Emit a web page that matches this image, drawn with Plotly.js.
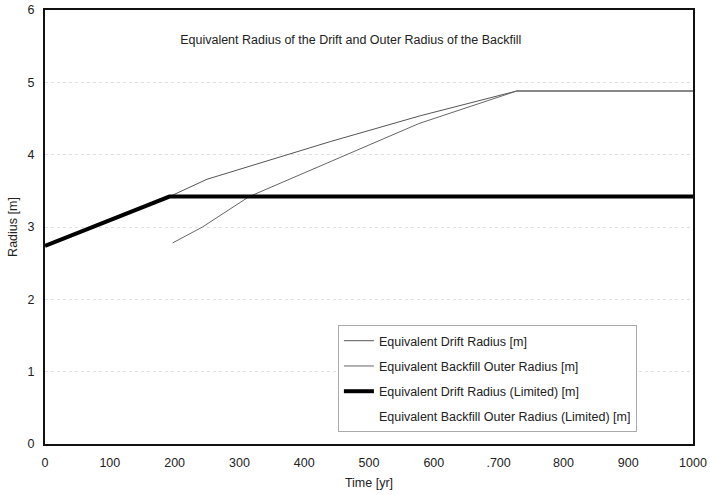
<!DOCTYPE html>
<html>
<head>
<meta charset="utf-8">
<script src="https://cdn.plot.ly/plotly-3.0.1.min.js"></script>
<style>
  html, body { margin: 0; padding: 0; background: #fff; }
  #chart { width: 710px; height: 495px; }
</style>
</head>
<body>
<div id="chart"></div>
<script>
// Equivalent radius of the drift and outer radius of the backfill over time
const driftTime      = [0, 192, 250, 440, 580, 728, 1000];
const driftRadius    = [2.74, 3.42, 3.66, 4.18, 4.54, 4.88, 4.88];

const backfillTime   = [197, 243, 315, 464, 577, 728, 1000];
const backfillRadius = [2.78, 3.0, 3.42, 4.0, 4.43, 4.88, 4.88];

const limitedTime    = [0, 192, 1000];
const limitedRadius  = [2.74, 3.42, 3.42];

const limBackTime    = [192, 1000];
const limBackRadius  = [3.42, 3.42];

const seriesNames = [
  'Equivalent Drift Radius [m]',
  'Equivalent Backfill Outer Radius [m]',
  'Equivalent Drift Radius (Limited) [m]',
  'Equivalent Backfill Outer Radius (Limited) [m]'
];

const xTicks = [0, 100, 200, 300, 400, 500, 600, 700, 800, 900, 1000];
const xTickText = ['0', '100', '200', '300', '400', '500', '600', '.700', '800', '900', '1000'];
const yTicks = [0, 1, 2, 3, 4, 5, 6];

const font = 'Liberation Sans, Arial, sans-serif';

const traces = [
  { x: driftTime, y: driftRadius, name: seriesNames[0], legendgroup: 'a',
    mode: 'lines', line: { color: '#555', width: 1 } },
  { x: backfillTime, y: backfillRadius, name: seriesNames[1], legendgroup: 'b',
    mode: 'lines', line: { color: '#666', width: 1 } },
  { x: limitedTime, y: limitedRadius, name: seriesNames[2], legendgroup: 'c',
    mode: 'lines', line: { color: '#000', width: 4 } },
  { x: limBackTime, y: limBackRadius, name: seriesNames[3], legendgroup: 'd',
    mode: 'lines', line: { color: 'rgba(255,255,255,0)', width: 1 } }
];

const layout = {
  width: 710, height: 495,
  paper_bgcolor: '#fff', plot_bgcolor: '#fff',
  margin: { l: 45, r: 17, t: 10, b: 51 },
  font: { family: font, size: 12.5, color: '#222' },
  title: {
    text: 'Equivalent Radius of the Drift and Outer Radius of the Backfill',
    font: { family: font, size: 12.5, color: '#222' },
    xref: 'container', yref: 'container',
    x: 0.494, y: 0.919, xanchor: 'center', yanchor: 'middle'
  },
  xaxis: {
    range: [0, 1000], tickvals: xTicks, ticktext: xTickText,
    showgrid: false, zeroline: false,
    showline: true, linecolor: '#111', linewidth: 2, mirror: true,
    ticks: '', ticklabelstandoff: 6, tickfont: { size: 12.5, color: '#222' },
    title: { text: 'Time [yr]', font: { size: 12.5, color: '#222' }, standoff: 9 }
  },
  yaxis: {
    range: [0, 6], tickvals: yTicks,
    showgrid: true, gridcolor: '#e0e0e0', griddash: 'dot', gridwidth: 1,
    zeroline: false,
    showline: true, linecolor: '#111', linewidth: 2, mirror: true,
    ticks: '', ticklabelstandoff: 6, tickfont: { size: 12.5, color: '#222' },
    title: { text: 'Radius [m]', font: { size: 12.5, color: '#222' }, standoff: 7 }
  },
  showlegend: true,
  legend: {
    x: 0.452, y: 0.274, xanchor: 'left', yanchor: 'top',
    bgcolor: '#fff', bordercolor: '#aaa', borderwidth: 1,
    font: { family: font, size: 12.5, color: '#222' },
    traceorder: 'grouped', tracegroupgap: 6,
    itemwidth: 30
  }
};

Plotly.newPlot('chart', traces, layout, { displayModeBar: false, staticPlot: true });
</script>
</body>
</html>
